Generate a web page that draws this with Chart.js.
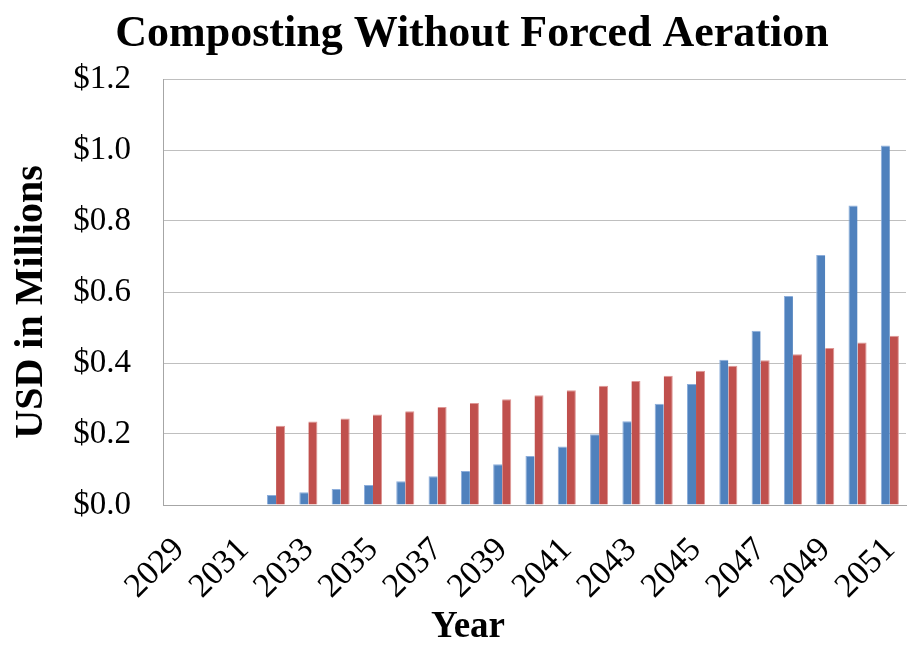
<!DOCTYPE html>
<html>
<head>
<meta charset="utf-8">
<script src="https://cdn.jsdelivr.net/npm/chart.js@4/dist/chart.umd.min.js"></script>
<style>
  html, body { margin: 0; padding: 0; background: #ffffff; }
  #wrap { width: 919px; height: 645px; position: relative; }
</style>
</head>
<body>
<div id="wrap"><canvas id="chart" width="919" height="645"></canvas></div>
<script>
// Years on the category axis
const years = ['2029','2030','2031','2032','2033','2034','2035','2036','2037','2038','2039','2040',
               '2041','2042','2043','2044','2045','2046','2047','2048','2049','2050','2051'];

// Annual cost series, USD in millions
const blueSeries = [null, null, null, 0.028, 0.036, 0.045, 0.056, 0.067, 0.081, 0.096, 0.115, 0.138,
                    0.165, 0.199, 0.236, 0.285, 0.341, 0.409, 0.491, 0.589, 0.704, 0.844, 1.013];
const redSeries  = [null, null, null, 0.223, 0.235, 0.244, 0.255, 0.264, 0.276, 0.287, 0.298, 0.309,
                    0.323, 0.336, 0.349, 0.364, 0.378, 0.392, 0.408, 0.425, 0.442, 0.458, 0.477];

// Value axis ticks
const yTicks = [0, 0.2, 0.4, 0.6, 0.8, 1.0, 1.2];

const SERIF = '"Liberation Serif", "Times New Roman", serif';

// Chart title and axis titles, placed as text on the canvas
const titlesPlugin = {
  id: 'titles',
  afterDraw(chart) {
    const ctx = chart.ctx;
    ctx.save();
    ctx.fillStyle = '#000000';
    ctx.textAlign = 'center';
    ctx.textBaseline = 'alphabetic';

    ctx.font = 'bold 44px ' + SERIF;
    ctx.fillText('Composting Without Forced Aeration', 472, 46);

    ctx.font = 'bold 37px ' + SERIF;
    ctx.fillText('Year', 468, 637);

    ctx.translate(42, 302);
    ctx.rotate(-Math.PI / 2);
    ctx.font = 'bold 40px ' + SERIF;
    ctx.fillText('USD in Millions', 0, 0);
    ctx.restore();
  }
};

new Chart(document.getElementById('chart'), {
  type: 'bar',
  data: {
    labels: years,
    datasets: [
      {
        data: blueSeries,
        backgroundColor: '#4F81BD',
        borderColor: '#8DAEDB',
        borderWidth: { top: 1, left: 1, right: 0, bottom: 0 },
        borderSkipped: false,
        categoryPercentage: 0.56,
        barPercentage: 1.0
      },
      {
        data: redSeries,
        backgroundColor: '#C0504D',
        borderColor: '#DE9795',
        borderWidth: { top: 1, right: 1, left: 0, bottom: 0 },
        borderSkipped: false,
        categoryPercentage: 0.56,
        barPercentage: 1.0
      }
    ]
  },
  plugins: [titlesPlugin],
  options: {
    responsive: false,
    animation: false,
    devicePixelRatio: 1,
    layout: { padding: { top: 79, right: 13, bottom: 0, left: 0 } },
    plugins: {
      legend: { display: false },
      tooltip: { enabled: false },
      title: { display: false }
    },
    scales: {
      x: {
        grid: { display: false, drawTicks: false },
        border: { display: true, color: '#A6A6A6', width: 1 },
        ticks: {
          autoSkip: false,
          maxRotation: 45,
          minRotation: 45,
          padding: 25,
          color: '#000000',
          font: { family: SERIF, size: 34 },
          callback: (value, index) => (index % 2 === 0 ? years[index] : '')
        },
        title: { display: false },
        afterFit: (scale) => {
          scale.height = 140;
          scale.paddingLeft = 0;
          scale.paddingRight = 0;
        }
      },
      y: {
        min: 0,
        max: 1.2,
        afterBuildTicks: (scale) => { scale.ticks = yTicks.map(v => ({ value: v })); },
        grid: { color: '#BFBFBF', lineWidth: 1, drawTicks: false },
        border: { display: true, color: '#A6A6A6', width: 1 },
        ticks: {
          padding: 32,
          color: '#000000',
          font: { family: SERIF, size: 33 },
          callback: (value) => '$' + Number(value).toFixed(1)
        },
        title: { display: false },
        afterFit: (scale) => {
          scale.width = 163;
          scale.paddingTop = 0;
          scale.paddingBottom = 0;
        }
      }
    }
  }
});
</script>
</body>
</html>
